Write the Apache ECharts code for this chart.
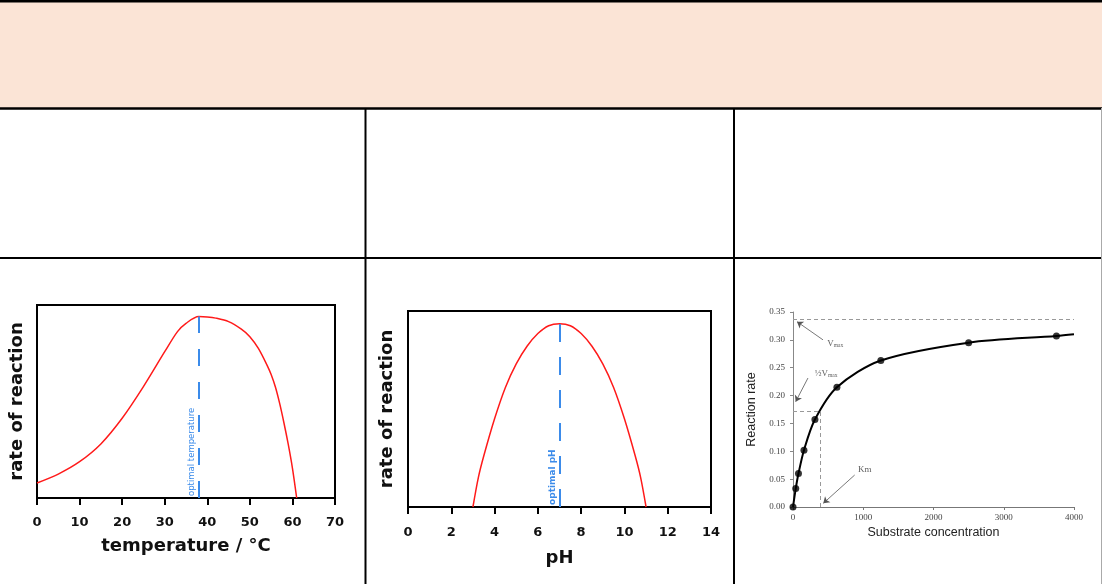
<!DOCTYPE html>
<html>
<head>
<meta charset="utf-8">
<script src="https://cdn.jsdelivr.net/npm/echarts@6/dist/echarts.min.js"></script>
<style>
html,body{margin:0;padding:0;background:#fff;}
#c{width:1102px;height:584px;}
</style>
</head>
<body>
<div id="c"></div>
<script>
// ---- Data ----
// Chart 1: temperature vs rate of reaction
const tempX = [0, 5, 10, 15, 20, 25, 30, 33, 35, 38, 40, 42, 45, 48, 50, 52, 54, 55, 56, 57, 58, 59, 60, 61];
const tempRate = [0.078, 0.124, 0.188, 0.28, 0.413, 0.577, 0.758, 0.862, 0.905, 0.94, 0.938, 0.932, 0.914, 0.875, 0.836, 0.775, 0.69, 0.64, 0.575, 0.49, 0.39, 0.28, 0.155, 0];
const tempTicks = [0, 10, 20, 30, 40, 50, 60, 70];
const optimalTemp = 38;
const optimalTempRate = 0.94;

// Chart 2: pH vs rate of reaction
const phX = [3, 3.25, 3.5, 4, 4.5, 5, 5.5, 6, 6.5, 7, 7.5, 8, 8.5, 9, 9.5, 10, 10.5, 10.75, 11];
const phRate = [0, 0.15, 0.26, 0.45, 0.61, 0.73, 0.82, 0.885, 0.925, 0.935, 0.925, 0.885, 0.82, 0.73, 0.61, 0.45, 0.26, 0.15, 0];
const phTicks = [0, 2, 4, 6, 8, 10, 12, 14];
const optimalPH = 7;
const optimalPHRate = 0.935;

// Chart 3: Michaelis-Menten
const substrate = [0, 39, 78, 156, 312, 625, 1250, 2500, 3750];
const reactionRate = [0, 0.033, 0.060, 0.102, 0.157, 0.215, 0.263, 0.295, 0.307];
const curveEndX = 4000;
const curveEndY = 0.310;
const vmax = 0.337;
const halfVmax = 0.172;
const km = 390;
const rateTicks = [0, 0.05, 0.10, 0.15, 0.20, 0.25, 0.30, 0.35];
const substrateTicks = [0, 1000, 2000, 3000, 4000];
// annotation labels [x, y, text]
const annotLabels = [[600, 0.294, 'V{s|max}'], [470, 0.239, '½V{s|max}'], [1020, 0.0664, 'Km']];
// annotation arrows [x1, y1, x2, y2]
const annotArrows = [[427, 0.300, 57, 0.3326], [213, 0.2315, 38, 0.189], [878, 0.0574, 431, 0.0066]];

// ---- Chart ----
const chart = echarts.init(document.getElementById('c'), null, {renderer: 'canvas'});
const gothic = '"DejaVu Sans", sans-serif';
const blue = '#3b8bea';
const red = '#ff1a1a';

function boxXAxis(gridIndex, min, max, interval, name, nameGap, labelMargin) {
  return {
    type: 'value', gridIndex, min, max, interval,
    name, nameLocation: 'middle', nameGap,
    nameTextStyle: {fontFamily: gothic, fontWeight: 'bold', fontSize: 18, color: '#111'},
    axisLine: {show: true, onZero: false, lineStyle: {color: '#000', width: 2}},
    axisTick: {show: true, inside: false, length: 7, lineStyle: {color: '#000', width: 2}},
    axisLabel: {margin: labelMargin, fontFamily: gothic, fontWeight: 'bold', fontSize: 13, color: '#111'},
    splitLine: {show: false}
  };
}
function boxYAxis(gridIndex, nameGap) {
  return {
    type: 'value', gridIndex, min: 0, max: 1,
    name: 'rate of reaction', nameLocation: 'middle', nameGap, nameRotate: 90,
    nameTextStyle: {fontFamily: gothic, fontWeight: 'bold', fontSize: 18, color: '#111'},
    axisLine: {show: true, lineStyle: {color: '#000', width: 2}},
    axisTick: {show: false}, axisLabel: {show: false}, splitLine: {show: false}
  };
}

const tableLines = [
  {x1: 0, y1: 1.2, x2: 1102, y2: 1.2, w: 2.5, c: '#000'},
  {x1: 0, y1: 108.5, x2: 1102, y2: 108.5, w: 2.5, c: '#000'},
  {x1: 0, y1: 258, x2: 1102, y2: 258, w: 2, c: '#000'},
  {x1: 365.5, y1: 108, x2: 365.5, y2: 584, w: 2, c: '#000'},
  {x1: 734, y1: 108, x2: 734, y2: 584, w: 2, c: '#000'},
  {x1: 1101.5, y1: 108, x2: 1101.5, y2: 584, w: 1, c: '#aaa'}
];

const graphic = [
  {type: 'rect', shape: {x: 0, y: 0, width: 1102, height: 108}, style: {fill: '#fbe4d6'}, z: -10}
].concat(tableLines.map(l => ({
  type: 'line', shape: {x1: l.x1, y1: l.y1, x2: l.x2, y2: l.y2},
  style: {stroke: l.c, lineWidth: l.w}, z: 10
})));

const option = {
  animation: false,
  backgroundColor: '#fff',
  graphic,
  grid: [
    {left: 37, top: 305, width: 298, height: 193, show: true, borderColor: '#000', borderWidth: 2, backgroundColor: 'transparent'},
    {left: 408, top: 311, width: 303, height: 196, show: true, borderColor: '#000', borderWidth: 2, backgroundColor: 'transparent'},
    {left: 793, top: 312, width: 281, height: 195, show: false}
  ],
  xAxis: [
    boxXAxis(0, tempTicks[0], tempTicks[tempTicks.length - 1], 10, 'temperature / °C', 39, 18),
    boxXAxis(1, phTicks[0], phTicks[phTicks.length - 1], 2, 'pH', 42, 19),
    {
      type: 'value', gridIndex: 2, min: substrateTicks[0], max: substrateTicks[substrateTicks.length - 1], interval: 1000,
      name: 'Substrate concentration', nameLocation: 'middle', nameGap: 19,
      nameTextStyle: {fontFamily: '"Liberation Sans", Arial, sans-serif', fontSize: 12.5, color: '#222'},
      axisLine: {show: true, onZero: false, lineStyle: {color: '#777', width: 1}},
      axisTick: {show: true, length: 3, lineStyle: {color: '#777'}},
      axisLabel: {margin: 6, fontFamily: '"Liberation Serif", "Times New Roman", serif', fontSize: 9, color: '#444',
        formatter: v => String(v)},
      splitLine: {show: false}
    }
  ],
  yAxis: [
    boxYAxis(0, 11),
    boxYAxis(1, 12),
    {
      type: 'value', gridIndex: 2, min: rateTicks[0], max: rateTicks[rateTicks.length - 1], interval: 0.05,
      name: 'Reaction rate', nameLocation: 'middle', nameGap: 35, nameRotate: 90,
      nameTextStyle: {fontFamily: '"Liberation Sans", Arial, sans-serif', fontSize: 12.5, color: '#222'},
      axisLine: {show: true, lineStyle: {color: '#888', width: 1}},
      axisTick: {show: true, length: 3, lineStyle: {color: '#888'}},
      axisLabel: {margin: 8, fontFamily: '"Liberation Serif", "Times New Roman", serif', fontSize: 9, color: '#444',
        formatter: v => v.toFixed(2)},
      splitLine: {show: false}
    }
  ],
  series: [
    {
      type: 'line', xAxisIndex: 0, yAxisIndex: 0,
      data: tempX.map((t, i) => [t, tempRate[i]]),
      smooth: 0.3, showSymbol: false, symbol: 'none',
      lineStyle: {color: red, width: 1.5},
      markLine: {
        silent: true, symbol: ['none', 'none'],
        lineStyle: {color: blue, width: 2, type: [17, 16]},
        label: {show: true, formatter: 'optimal temperature', position: 'insideStartTop', distance: 2,
          color: blue, fontFamily: gothic, fontSize: 8.5},
        data: [[{coord: [optimalTemp, 0]}, {coord: [optimalTemp, optimalTempRate]}]]
      }
    },
    {
      type: 'line', xAxisIndex: 1, yAxisIndex: 1,
      data: phX.map((p, i) => [p, phRate[i]]),
      smooth: 0.3, showSymbol: false, symbol: 'none',
      lineStyle: {color: red, width: 1.5},
      markLine: {
        silent: true, symbol: ['none', 'none'],
        lineStyle: {color: blue, width: 2, type: [18, 15]},
        label: {show: true, formatter: 'optimal pH', position: 'insideStartTop', distance: 2,
          color: blue, fontFamily: gothic, fontWeight: 'bold', fontSize: 9},
        data: [[{coord: [optimalPH, 0]}, {coord: [optimalPH, optimalPHRate]}]]
      }
    },
    {
      type: 'line', xAxisIndex: 2, yAxisIndex: 2,
      data: substrate.map((s, i) => [s, reactionRate[i]]).concat([[curveEndX, curveEndY]]),
      smooth: 0.3, showSymbol: false, symbol: 'none',
      lineStyle: {color: '#000', width: 2},
      z: 3,
      markLine: {
        silent: true, symbol: ['none', 'none'],
        lineStyle: {color: '#999', width: 1, type: [4, 3]},
        label: {show: false},
        data: [
          [{coord: [0, vmax]}, {coord: [curveEndX, vmax]}],
          [{coord: [0, halfVmax]}, {coord: [km, halfVmax]}],
          [{coord: [km, 0]}, {coord: [km, halfVmax]}]
        ]
      }
    },
    {
      type: 'scatter', xAxisIndex: 2, yAxisIndex: 2,
      data: substrate.map((s, i) => [s, reactionRate[i]]),
      symbol: 'circle', symbolSize: 7, itemStyle: {color: '#000'}, z: 4
    },
    {
      type: 'scatter', xAxisIndex: 2, yAxisIndex: 2,
      data: annotLabels.map(a => [a[0], a[1], a[2]]),
      symbol: 'circle', symbolSize: 0,
      label: {
        show: true, position: 'inside',
        formatter: p => p.data[2],
        fontFamily: '"Liberation Serif", "Times New Roman", serif', fontSize: 9, color: '#333',
        rich: {s: {fontFamily: '"Liberation Serif", serif', fontSize: 5.5, color: '#333', verticalAlign: 'bottom', padding: [4, 0, 0, 0]}}
      },
      markLine: {
        silent: true, symbol: ['none', 'arrow'], symbolSize: 6,
        lineStyle: {color: '#555', width: 0.8, type: 'solid'},
        label: {show: false},
        data: annotArrows.map(a => [{coord: [a[0], a[1]]}, {coord: [a[2], a[3]]}])
      }
    }
  ]
};
chart.setOption(option);
</script>
</body>
</html>
